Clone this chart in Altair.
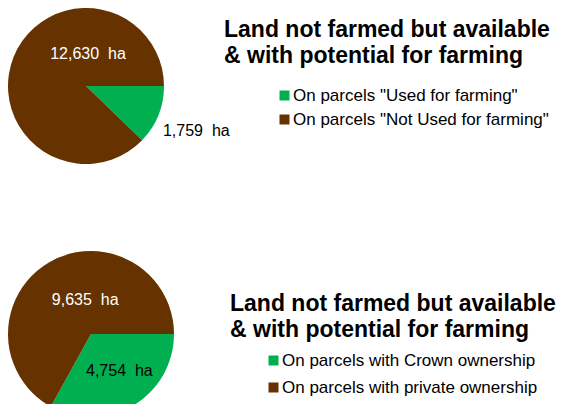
import math
import altair as alt
import pandas as pd

# ---- data ----
cats_top = ['On parcels "Used for farming"', 'On parcels "Not Used for farming"']
vals_top = [1759, 12630]
cats_bottom = ["On parcels with Crown ownership", "On parcels with private ownership"]
vals_bottom = [4754, 9635]
slice_colors = ["#00B050", "#663300"]
title_lines = ["Land not farmed but available", "& with potential for farming"]

FONT = "Liberation Sans"


def make_pie(cats, vals, cx, cy, r, leg_x, leg_y, row_pad, label_specs):
    df = pd.DataFrame({"cat": cats, "value": vals, "order": list(range(len(cats)))})
    base = alt.Chart(df).transform_calculate(
        label="format(datum.value, ',') + '\u00a0 ha'"
    )
    theta = alt.Theta(
        "value:Q",
        stack=True,
        scale=alt.Scale(range=[math.pi / 2, math.pi / 2 + 2 * math.pi]),
    )
    color = alt.Color(
        "cat:N",
        scale=alt.Scale(domain=cats, range=slice_colors),
        legend=alt.Legend(
            orient="none",
            legendX=leg_x,
            legendY=leg_y,
            padding=0,
            title=None,
            symbolType="square",
            symbolSize=100,
            symbolStrokeWidth=0,
            labelFont=FONT,
            labelFontSize=17,
            labelColor="#000000",
            labelOffset=0,
            labelLimit=500,
            rowPadding=row_pad,
        ),
    )
    arc = base.mark_arc(radius=r, stroke=None).encode(
        theta=theta,
        color=color,
        order=alt.Order("order:Q"),
        x=alt.value(cx),
        y=alt.value(cy),
    )
    layers = [arc]
    for i, (rad, dx, dy, col) in enumerate(label_specs):
        layers.append(
            base.mark_text(
                radius=rad, dx=dx, dy=dy, font=FONT, fontSize=16, color=col,
                align="center", baseline="middle",
            ).encode(
                theta=theta,
                order=alt.Order("order:Q"),
                x=alt.value(cx),
                y=alt.value(cy),
                text=alt.condition(f"datum.order == {i}", alt.Text("label:N"), alt.value("")),
            )
        )
    return alt.layer(*layers)


pie_top = make_pie(
    cats_top, vals_top, 78, 78, 78, 268, 79, 6,
    [(119, 0, 0, "#000000"), (0, 2, -32, "#ffffff")],
)
pie_bottom = make_pie(
    cats_bottom, vals_bottom, 83, 326, 83, 257, 344, 9,
    [(46, 5, -3, "#000000"), (35, 12, -4, "#ffffff")],
)

title_df = pd.DataFrame({"t": ["\n".join(title_lines)]})
title_top = alt.Chart(title_df).mark_text(
    font=FONT, fontSize=23, fontWeight="bold", align="left", baseline="alphabetic",
    lineBreak="\n", lineHeight=25.5, color="#000000",
).encode(text="t:N", x=alt.value(216), y=alt.value(29))
title_bottom = alt.Chart(title_df).mark_text(
    font=FONT, fontSize=23, fontWeight="bold", align="left", baseline="alphabetic",
    lineBreak="\n", lineHeight=25.5, color="#000000",
).encode(text="t:N", x=alt.value(222), y=alt.value(303))

chart = (
    alt.layer(pie_top, pie_bottom, title_top, title_bottom)
    .resolve_scale(theta="independent", color="independent")
    .resolve_legend(color="independent")
    .properties(width=552, height=396, autosize=alt.AutoSizeParams(type="none"), padding=0)
    .configure_view(stroke=None)
)

chart.save("out.html", embed_options={"renderer": "svg", "actions": False})
